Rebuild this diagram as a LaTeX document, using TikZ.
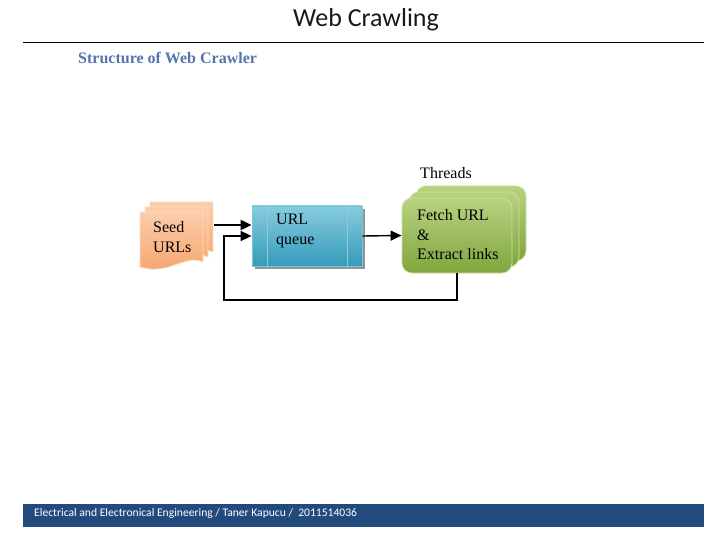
\documentclass[tikz,border=0pt]{standalone}
\usepackage{fontspec}
\setmainfont{Liberation Serif}
\newfontfamily\calibri{Carlito}
\usetikzlibrary{arrows.meta,shadows,calc}
\definecolor{subblue}{RGB}{84,116,170}
\definecolor{footblue}{RGB}{35,74,124}
\definecolor{seedfillA}{RGB}{251,205,170}
\definecolor{seedfillB}{RGB}{246,163,106}
\definecolor{seededge}{RGB}{252,222,200}
\definecolor{queueA}{RGB}{135,204,222}
\definecolor{queueB}{RGB}{52,155,186}
\definecolor{queueedge}{RGB}{120,196,216}
\definecolor{greenA}{RGB}{184,210,128}
\definecolor{greenB}{RGB}{128,166,62}
\definecolor{greenedge}{RGB}{205,224,160}
\tikzset{
  seedsheet/.style={top color=seedfillA, bottom color=seedfillB, draw=seededge, line width=0.8pt},
  queuebox/.style={rectangle, top color=queueA, bottom color=queueB, draw=queueedge, line width=0.8pt,
     minimum width=110pt, minimum height=60pt, inner sep=0pt,
     drop shadow={shadow xshift=3pt, shadow yshift=-3pt, fill=black!60, opacity=0.7}},
  threadbox/.style={rectangle, rounded corners=10pt, top color=greenA, bottom color=greenB, draw=greenedge, line width=0.8pt,
     minimum width=110pt, minimum height=75pt, inner sep=0pt},
  lbl/.style={font=\fontsize{16}{19.5}\selectfont, align=left, inner sep=0pt, text=black},
  arr/.style={-{Triangle[length=11pt,width=10pt]}, line width=1.4pt, black},
}
\begin{document}
\begin{tikzpicture}[x=1pt,y=-1pt]
\useasboundingbox (0,0) rectangle (720,540);
% header
\node[font=\calibri\fontsize{26}{30}\selectfont, text=black!90] (title) at (366,20) {Web Crawling};
\coordinate (hl) at (23,42);
\coordinate (hr) at (704,42);
\draw[line width=0.8pt] (hl) -- (hr);
\node[font=\fontsize{16}{20}\selectfont\bfseries, text=subblue, anchor=west, inner sep=0pt] (sub) at (78,58) {Structure of Web Crawler};
% footer
\fill[footblue] (23,504) rectangle (704,527);
\node[font=\calibri\fontsize{11.6}{13}\selectfont, text=white, anchor=west, inner sep=0pt] (foot) at (34,513) {Electrical and Electronical Engineering / Taner Kapucu / \ 2011514036};
% seed URLs sheets
\foreach \d in {10,5,0}{
  \path[seedsheet, shift={(\d,-\d)}] (140,212) -- (203,212) -- (203,262)
     .. controls (185,254) and (168,276) .. (140,267) -- cycle;
}
\node[lbl, anchor=west] (seed) at (153,237) {Seed\\URLs};
\coordinate (seedR) at (214,225);
% URL queue
\node[queuebox] (queue) at (307,236) {};
\draw[queueedge!80!black!60, line width=0.8pt] ([xshift=16pt]queue.north west) -- ([xshift=16pt]queue.south west);
\draw[queueedge!80!black!60, line width=0.8pt] ([xshift=-15pt]queue.north east) -- ([xshift=-15pt]queue.south east);
\node[lbl, anchor=west] (qtxt) at (276,231) {URL\\queue};
% threads
\node[threadbox] (t1) at (471,223.5) {};
\node[threadbox] (t2) at (464,229.5) {};
\node[threadbox] (t3) at (457,235.5) {};
\node[lbl, anchor=west] (ttxt) at (417,235) {Fetch URL\\\&\\Extract links};
\node[lbl] (threads) at (446,173) {Threads};
% connectors
\coordinate (loopc) at (224,300);
\draw[arr, line width=2pt] (seedR) -- (seedR -| queue.west);
\draw[arr] (queue.east) -- (t3.west);
\draw[arr] (t3.south) |- (loopc) |- (queue.west);
\end{tikzpicture}
\end{document}
